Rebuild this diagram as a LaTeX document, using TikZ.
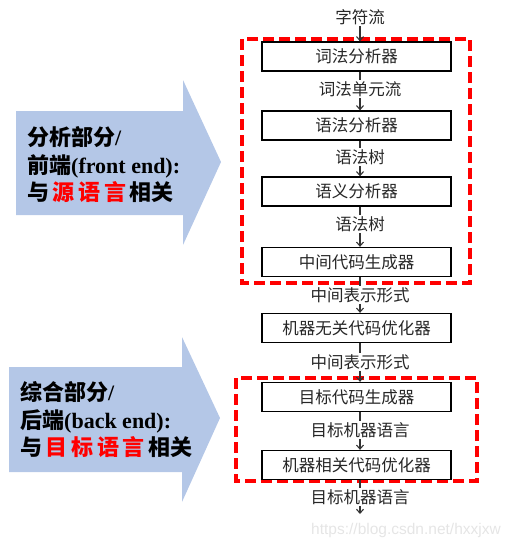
\documentclass[tikz,border=0pt]{standalone}
\usepackage{fontspec}
\usetikzlibrary{arrows.meta}
\setmainfont{Liberation Serif}
\newfontfamily\cjk{Noto Sans CJK SC}
\newfontfamily\wmfont{Liberation Sans}
\definecolor{arrowblue}{RGB}{180,199,231}
\definecolor{linegray}{RGB}{50,50,50}
\tikzset{
  box/.style={draw=black, line width=1.3pt, minimum width=189pt, minimum height=29pt, inner sep=0pt,
              font=\cjk\fontsize{16.5}{19}\selectfont, text=black!85},
  lab/.style={inner sep=1pt, font=\cjk\fontsize{16.5}{19}\selectfont, text=black!85},
  conn/.style={draw=linegray, line width=1.1pt},
  conna/.style={conn, -{Straight Barb[length=4pt,width=7pt]}},
  reddash/.style={draw=red, line width=3.2pt, dash pattern=on 11pt off 5pt},
  bigarrow/.style={fill=arrowblue, draw=none},
  bigtext/.style={align=left, anchor=west, inner sep=0pt, font=\bfseries\fontsize{22}{27.5}\selectfont},
}
\begin{document}
\begin{tikzpicture}[x=1pt,y=-1pt]
\useasboundingbox (0,0) rectangle (512,547);
% big blue arrows
\fill[bigarrow] (16,111) -- (183,111) -- (183,80) -- (221,162) -- (183,245) -- (183,215) -- (16,215) -- cycle;
\fill[bigarrow] (9,367) -- (182,367) -- (182,337) -- (220,418) -- (182,502) -- (182,472) -- (9,472) -- cycle;
\node[bigtext] (front) at (27,165) {{\cjk 分析部分}/\\{\cjk 前端}(front end):\\{\cjk 与\,\textcolor{red}{源\,语\,言}\,相关}};
\node[bigtext] (back) at (20,420) {{\cjk 综合部分}/\\{\cjk 后端}(back end):\\{\cjk 与\,\textcolor{red}{目\,标\,语\,言}\,相关}};
% red dashed groups
\draw[reddash] (242,39) rectangle (470,283);
\draw[reddash] (236,378) rectangle (477,481);
% boxes
\node[box] (b1) at (356.5,56.5) {词法分析器};
\node[box] (b2) at (356.5,125.5) {语法分析器};
\node[box] (b3) at (356.5,191.5) {语义分析器};
\node[box] (b4) at (356.5,262) {中间代码生成器};
\node[box] (b5) at (356.5,328) {机器无关代码优化器};
\node[box] (b6) at (356.5,397) {目标代码生成器};
\node[box] (b7) at (356.5,465) {机器相关代码优化器};
% labels
\node[lab] (l0) at (360,17) {字符流};
\node[lab] (l1) at (360,89) {词法单元流};
\node[lab] (l2) at (360,157) {语法树};
\node[lab] (l3) at (360,224) {语法树};
\node[lab] (l4) at (360,295) {中间表示形式};
\node[lab] (l5) at (360,362) {中间表示形式};
\node[lab] (l6) at (360,430) {目标机器语言};
\node[lab] (l7) at (360,497) {目标机器语言};
\coordinate (end) at (360,514);
% connectors
\draw[conna] (l0) -- (l0 |- b1.north);
\draw[conn] (l1 |- b1.south) -- (l1);
\draw[conna] (l1) -- (l1 |- b2.north);
\draw[conn] (l2 |- b2.south) -- (l2);
\draw[conna] (l2) -- (l2 |- b3.north);
\draw[conn] (l3 |- b3.south) -- (l3);
\draw[conna] (l3) -- (l3 |- b4.north);
\draw[conn] (l4 |- b4.south) -- (l4);
\draw[conna] (l4) -- (l4 |- b5.north);
\draw[conn] (l5 |- b5.south) -- (l5);
\draw[conna] (l5) -- (l5 |- b6.north);
\draw[conn] (l6 |- b6.south) -- (l6);
\draw[conna] (l6) -- (l6 |- b7.north);
\draw[conn] (l7 |- b7.south) -- (l7);
\draw[conna] (l7) -- (end);
% watermark
\node[inner sep=0pt, text=black!10, font=\wmfont\fontsize{15.5}{18}\selectfont] (wm) at (406,530) {https://blog.csdn.net/hxxjxw};
\end{tikzpicture}
\end{document}
